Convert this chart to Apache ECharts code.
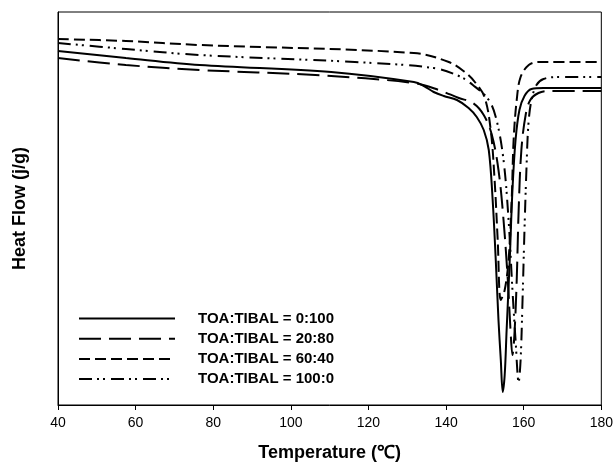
<!DOCTYPE html>
<html>
<head>
<meta charset="utf-8">
<script src="https://cdn.jsdelivr.net/npm/echarts@6/dist/echarts.min.js"></script>
<style>
  html, body { margin: 0; padding: 0; background: #fff; }
  #main { width: 616px; height: 469px; }
</style>
</head>
<body>
<div id="main"></div>
<script>
// temperature (C) and heat flow (arbitrary units)
var names = ['TOA:TIBAL = 0:100', 'TOA:TIBAL = 20:80', 'TOA:TIBAL = 60:40', 'TOA:TIBAL = 100:0'];
var xTicks = [40, 60, 80, 100, 120, 140, 160, 180];

var toa0 = [
  [40, 35.4], [57.5, 34.7], [76.5, 34.0], [110.4, 33.3], [131.7, 32.3], [134.3, 31.9],
  [136.8, 31.3], [139.4, 30.9], [142.8, 30.5], [145.8, 29.7], [147.9, 28.8], [149.7, 27.5],
  [151.0, 25.5], [152.0, 20.5], [152.8, 14.5], [153.5, 8.5], [154.1, 4.5], [154.6, 1.3],
  [155.1, 3.0], [155.6, 7.5], [156.4, 14.5], [157.1, 21.5], [157.9, 26.5], [158.9, 29.5],
  [160.2, 30.9], [162.0, 31.6], [165.1, 31.7], [180, 31.7]
];
var toa20 = [
  [40, 34.7], [57.5, 34.0], [76.5, 33.5], [106.3, 33.0], [131.7, 32.2], [138.1, 31.5],
  [143.3, 30.7], [146.9, 30.2], [149.7, 29.0], [151.8, 27.0], [153.5, 23.5], [154.8, 18.5],
  [155.9, 12.5], [156.6, 7.5], [157.1, 5.0], [157.6, 7.0], [158.2, 12.5], [158.7, 19.5],
  [159.4, 25.5], [160.5, 29.0], [161.7, 30.5], [163.8, 31.2], [166.3, 31.4], [180, 31.4]
];
var toa60 = [
  [40, 36.6], [57.5, 36.4], [76.5, 36.0], [131.7, 35.2], [140.7, 34.3], [144.8, 33.3],
  [147.4, 32.3], [149.9, 30.8], [151.5, 27.5], [152.5, 22.5], [153.3, 16.5], [154.1, 10.5],
  [155.1, 11.5], [156.1, 14.5], [156.9, 20.5], [157.4, 26.5], [158.2, 30.5], [159.2, 32.8],
  [161.3, 34.0], [163.8, 34.3], [180, 34.3]
];
var toa100 = [
  [40, 36.2], [57.5, 35.6], [76.5, 35.0], [116.5, 34.3], [136.8, 33.7], [143.3, 32.9],
  [146.9, 32.0], [151.0, 30.5], [153.0, 28.5], [154.8, 24.5], [156.1, 18.5], [157.1, 11.5],
  [157.9, 6.5], [158.7, 2.3], [159.2, 4.5], [159.7, 10.5], [160.2, 17.5], [160.7, 23.5],
  [161.2, 28.0], [162.0, 30.5], [163.3, 32.0], [165.1, 32.6], [168.9, 32.8], [180, 32.8]
];

var dashTypes = ['solid', [22, 8], [11, 5], [13, 5, 2, 4, 2, 6]];
var curves = [toa0, toa20, toa60, toa100];

var chart = echarts.init(document.getElementById('main'));

var series = [];
for (var i = 0; i < curves.length; i++) {
  series.push({
    name: names[i],
    type: 'line',
    data: curves[i],
    symbol: 'none',
    showSymbol: false,
    smooth: 0.35,
    lineStyle: { color: '#000', width: 2, type: dashTypes[i] },
    itemStyle: { color: '#000' }
  });
}

var option = {
  backgroundColor: '#fff',
  animation: false,
  textStyle: { fontFamily: 'Liberation Sans, Arial, sans-serif' },
  grid: {
    left: 58, right: 13, top: 12, bottom: 64,
    show: true, borderColor: '#000', borderWidth: 1, backgroundColor: '#fff'
  },
  legend: {
    orient: 'vertical',
    left: 73,
    top: 306,
    itemWidth: 96,
    itemHeight: 14,
    itemGap: 5.2,
    data: names,
    itemStyle: { opacity: 0 },
    textStyle: { color: '#000', fontSize: 15, fontWeight: 'bold', padding: [0, 0, 0, 18] }
  },
  xAxis: {
    type: 'value',
    min: 40, max: 180, interval: 20,
    name: 'Temperature (℃)',
    nameLocation: 'middle',
    nameGap: 39,
    nameTextStyle: { color: '#000', fontSize: 18, fontWeight: 'bold' },
    axisLine: { show: true, lineStyle: { color: '#000', width: 1 } },
    axisTick: { show: true, length: 5, lineStyle: { color: '#000' } },
    axisLabel: {
      color: '#000', fontSize: 14, margin: 11,
      formatter: function (v) { return xTicks.indexOf(v) >= 0 ? String(v) : ''; }
    },
    splitLine: { show: false }
  },
  yAxis: {
    type: 'value',
    min: 0, max: 39.3,
    name: 'Heat Flow (j/g)',
    nameLocation: 'middle',
    nameGap: 29,
    nameRotate: 90,
    nameTextStyle: { color: '#000', fontSize: 18, fontWeight: 'bold' },
    axisLine: { show: true, lineStyle: { color: '#000', width: 1 } },
    axisTick: { show: false },
    axisLabel: { show: false },
    splitLine: { show: false }
  },
  series: series
};

chart.setOption(option);
</script>
</body>
</html>
